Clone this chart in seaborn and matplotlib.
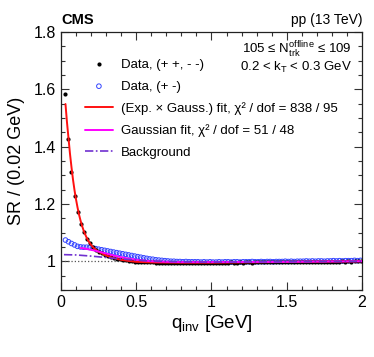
import matplotlib
matplotlib.use("Agg")
import matplotlib.pyplot as plt
import seaborn as sns
from matplotlib.ticker import MultipleLocator, FuncFormatter

# bin centres of the measured points
q_low = [0.03, 0.05, 0.07, 0.09, 0.11, 0.13, 0.15, 0.17, 0.19, 0.21, 0.23, 0.25,
         0.27, 0.29, 0.31, 0.33, 0.35, 0.37, 0.39, 0.41, 0.43, 0.45, 0.47, 0.49]
q_high = [round(0.51 + 0.02 * i, 2) for i in range(75)]
q_data = q_low + q_high

# Data, (+ +, - -)
same_sign_low = [1.584, 1.428, 1.311, 1.229, 1.172, 1.129, 1.101, 1.078, 1.062, 1.050,
                 1.041, 1.034, 1.028, 1.023, 1.019, 1.015, 1.012, 1.009, 1.007, 1.005,
                 1.003, 1.001, 1.000, 0.999]
same_sign_high = [0.998, 0.997, 0.997, 0.996, 0.996, 0.996, 0.995, 0.995, 0.995, 0.995,
                  0.995, 0.994, 0.995, 0.994, 0.995, 0.995, 0.994, 0.995, 0.995, 0.994,
                  0.995, 0.995, 0.994, 0.995, 0.995, 0.995, 0.994, 0.995, 0.995, 0.995,
                  0.995, 0.996, 0.995, 0.995, 0.996, 0.995, 0.996, 0.996, 0.995, 0.996,
                  0.996, 0.996, 0.997, 0.996, 0.996, 0.997, 0.996, 0.997, 0.997, 0.997,
                  0.997, 0.997, 0.998, 0.997, 0.998, 0.997, 0.998, 0.998, 0.998, 0.998,
                  0.998, 0.999, 0.998, 0.999, 0.999, 0.998, 0.999, 0.999, 1.000, 0.999,
                  1.000, 0.999, 1.000, 1.000, 1.001]
same_sign = same_sign_low + same_sign_high

# Data, (+ -)
opp_sign_low = [1.074, 1.068, 1.062, 1.057, 1.052, 1.050, 1.049, 1.049, 1.048, 1.046,
                1.044, 1.042, 1.040, 1.038, 1.036, 1.034, 1.032, 1.030, 1.028, 1.026,
                1.024, 1.022, 1.020, 1.018]
opp_sign_high = [1.016, 1.014, 1.012, 1.010, 1.008, 1.007, 1.005, 1.004, 1.003, 1.002,
                 1.001, 1.000, 1.000, 0.999, 0.999, 0.998, 0.999, 0.998, 0.998, 0.998,
                 0.998, 0.997, 0.998, 0.997, 0.998, 0.997, 0.997, 0.998, 0.997, 0.998,
                 0.998, 0.997, 0.998, 0.998, 0.997, 0.998, 0.998, 0.998, 0.999, 0.998,
                 0.998, 0.999, 0.998, 0.999, 0.999, 0.998, 0.999, 0.999, 0.999, 1.000,
                 0.999, 1.000, 0.999, 1.000, 1.000, 1.000, 1.001, 1.000, 1.001, 1.000,
                 1.001, 1.001, 1.000, 1.001, 1.001, 1.002, 1.001, 1.002, 1.001, 1.002,
                 1.002, 1.002, 1.003, 1.002, 1.003]
opp_sign = opp_sign_low + opp_sign_high

# (Exp. x Gauss.) fit
q_expfit = [0.03, 0.04, 0.05, 0.06, 0.07, 0.08, 0.09, 0.10, 0.11, 0.12, 0.13, 0.14,
            0.15, 0.16, 0.17, 0.18, 0.19, 0.20, 0.22, 0.25, 0.30, 0.35, 0.40, 0.45,
            0.50, 0.60, 0.80, 1.00, 1.20, 1.40, 1.60, 1.80, 2.00]
expfit = [1.549, 1.485, 1.430, 1.375, 1.328, 1.285, 1.248, 1.216, 1.188, 1.163, 1.142,
          1.124, 1.108, 1.095, 1.083, 1.073, 1.065, 1.057, 1.045, 1.033, 1.020, 1.011,
          1.005, 1.001, 0.998, 0.996, 0.995, 0.995, 0.996, 0.997, 0.998, 0.999, 1.000]

# Gaussian fit
q_gaus = [0.13, 0.15, 0.20, 0.25, 0.30, 0.35, 0.40, 0.45, 0.50, 0.60, 0.70, 0.80,
          1.00, 1.50, 2.00]
gaus = [1.046, 1.045, 1.040, 1.034, 1.027, 1.020, 1.014, 1.009, 1.005, 1.000, 0.998,
        0.997, 0.997, 0.998, 1.000]

# Background
q_bkg = [0.02, 0.10, 0.20, 0.30, 0.40, 0.50, 0.60, 0.80, 1.00, 1.50, 2.00]
bkg = [1.023, 1.022, 1.018, 1.013, 1.008, 1.004, 1.001, 0.998, 0.997, 0.998, 1.000]

sns.set_style("ticks")
plt.rcParams["font.family"] = ["Liberation Sans", "DejaVu Sans"]
plt.rcParams["mathtext.fontset"] = "custom"
plt.rcParams["mathtext.rm"] = "Liberation Sans"
plt.rcParams["mathtext.it"] = "Liberation Sans:italic"
plt.rcParams["text.color"] = "black"
plt.rcParams["axes.labelcolor"] = "black"
plt.rcParams["xtick.color"] = "black"
plt.rcParams["ytick.color"] = "black"

fig = plt.figure(figsize=(3.74, 3.57), dpi=100)
ax = fig.add_axes([0.163, 0.188, 0.805, 0.722])

ax.axhline(1.0, color="#555555", ls=":", lw=0.9, zorder=1)

sns.scatterplot(x=q_data, y=opp_sign, ax=ax, marker="o", s=11, facecolors="none",
                edgecolor="#3344ff", linewidth=0.7, label="Data, (+ -)", zorder=2)
sns.scatterplot(x=q_data, y=same_sign, ax=ax, marker="o", s=9, color="black",
                linewidth=0, label="Data, (+ +, - -)", zorder=3)
sns.lineplot(x=q_expfit, y=expfit, ax=ax, color="#ff1010", lw=1.4, sort=False,
             estimator=None, label="(Exp. × Gauss.) fit, χ² / dof = 838 / 95",
             zorder=4)
sns.lineplot(x=q_gaus, y=gaus, ax=ax, color="#ff00ff", lw=1.4, sort=False,
             estimator=None, label="Gaussian fit, χ² / dof = 51 / 48", zorder=4)
sns.lineplot(x=q_bkg, y=bkg, ax=ax, color="#7030d0", lw=1.2, ls=(0, (5, 1.5, 1, 1.5)),
             sort=False, estimator=None, label="Background", zorder=5)

ax.set_xlim(0, 2)
ax.set_ylim(0.9, 1.8)
ax.xaxis.set_major_locator(MultipleLocator(0.5))
ax.xaxis.set_minor_locator(MultipleLocator(0.1))
ax.yaxis.set_major_locator(MultipleLocator(0.2))
ax.yaxis.set_minor_locator(MultipleLocator(0.05))
fmt = FuncFormatter(lambda v, p: "%g" % round(v, 3))
ax.xaxis.set_major_formatter(fmt)
ax.yaxis.set_major_formatter(fmt)
ax.tick_params(which="both", direction="in", top=True, right=True, labelsize=11.5,
               width=0.8, color="#333333")
ax.tick_params(which="major", length=6)
ax.tick_params(which="minor", length=3)
for s in ax.spines.values():
    s.set_linewidth(0.9)
    s.set_color("#222222")

ax.set_xlabel(r"q$_{\mathrm{inv}}$ [GeV]", fontsize=13.5, labelpad=2)
ax.set_ylabel("SR / (0.02 GeV)", fontsize=13, labelpad=6)

handles, labels = ax.get_legend_handles_labels()
order = ["Data, (+ +, - -)", "Data, (+ -)"]
order += [l for l in labels if l not in order]
hmap = dict(zip(labels, handles))
ax.legend([hmap[l] for l in order], order, loc="upper left",
          bbox_to_anchor=(0.08, 0.897), frameon=False, fontsize=9.5, borderpad=0,
          borderaxespad=0, handlelength=2.1, handletextpad=0.6, labelspacing=0.72,
          scatterpoints=1, labelcolor="black")

ax.text(0.967, 0.930, "105 ≤ N$_{\\mathrm{trk}}^{\\mathrm{offline}}$ ≤ 109",
        transform=ax.transAxes, ha="right", va="center", fontsize=9.5)
ax.text(0.967, 0.864, r"0.2 < k$_{\mathrm{T}}$ < 0.3 GeV",
        transform=ax.transAxes, ha="right", va="center", fontsize=9.5)
ax.text(0.0, 1.02, "CMS", transform=ax.transAxes, ha="left", va="bottom",
        fontsize=10.5, fontweight="bold")
ax.text(1.0, 1.02, "pp (13 TeV)", transform=ax.transAxes, ha="right", va="bottom",
        fontsize=10)

fig.savefig("out.png", dpi=100)
